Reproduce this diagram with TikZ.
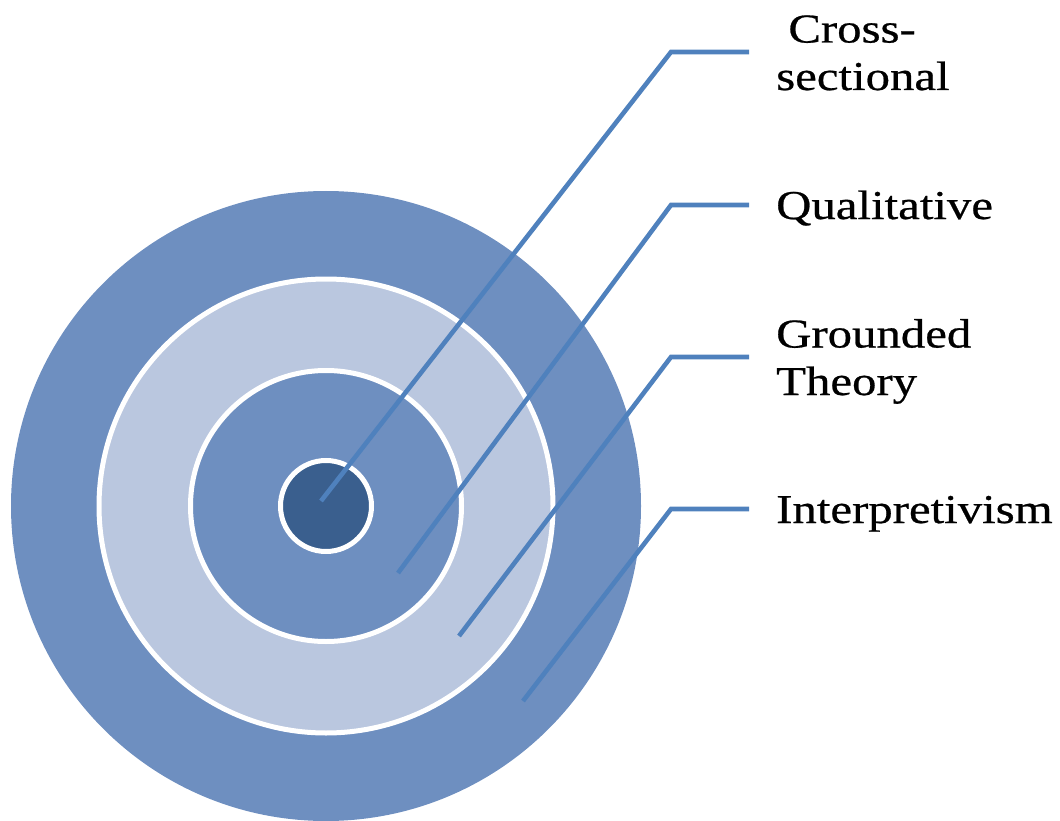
\documentclass[tikz,border=0pt]{standalone}
\usepackage{fontspec}
\setmainfont[FakeStretch=1.19,FakeBold=0.6]{Liberation Serif}
\definecolor{ringmid}{HTML}{6E8FC0}
\definecolor{ringlight}{HTML}{BAC7DF}
\definecolor{ringdark}{HTML}{3A5F8E}
\definecolor{leader}{HTML}{4F81BD}
\tikzset{
  ringw/.style={draw=white,line width=5pt},
  leadline/.style={draw=leader,line width=4.6pt},
  lbl/.style={anchor=base west,inner sep=0pt,font=\fontsize{41}{47.5}\selectfont,align=left}
}
\begin{document}
\begin{tikzpicture}[x=1pt,y=-1pt]
\useasboundingbox (0,0) rectangle (1060,821);
\coordinate (c) at (326,506);
\fill[ringmid] (c) circle (315);
\path[ringw,fill=ringlight] (c) circle (227);
\path[ringw,fill=ringmid] (c) circle (135.5);
\path[ringw,fill=ringdark] (c) circle (45.5);
% leader endpoints
\coordinate (e1) at (321,501);
\coordinate (e2) at (398,573);
\coordinate (e3) at (459,636);
\coordinate (e4) at (523,701);
\coordinate (k1) at (671,52);
\coordinate (k2) at (671,205);
\coordinate (k3) at (671,357);
\coordinate (k4) at (671,509);
\coordinate (t1) at (749,52);
\coordinate (t2) at (749,205);
\coordinate (t3) at (749,357);
\coordinate (t4) at (749,509);
\draw[leadline] (e1) -- (k1) -- (t1);
\draw[leadline] (e2) -- (k2) -- (t2);
\draw[leadline] (e3) -- (k3) -- (t3);
\draw[leadline] (e4) -- (k4) -- (t4);
\node[lbl] (l1) at (776,90) {\ Cross-\\sectional};
\node[lbl] (l2) at (776,219) {Qualitative};
\node[lbl] (l3) at (776,395) {Grounded\\Theory};
\node[lbl] (l4) at (776,523) {Interpretivism};
\end{tikzpicture}
\end{document}
